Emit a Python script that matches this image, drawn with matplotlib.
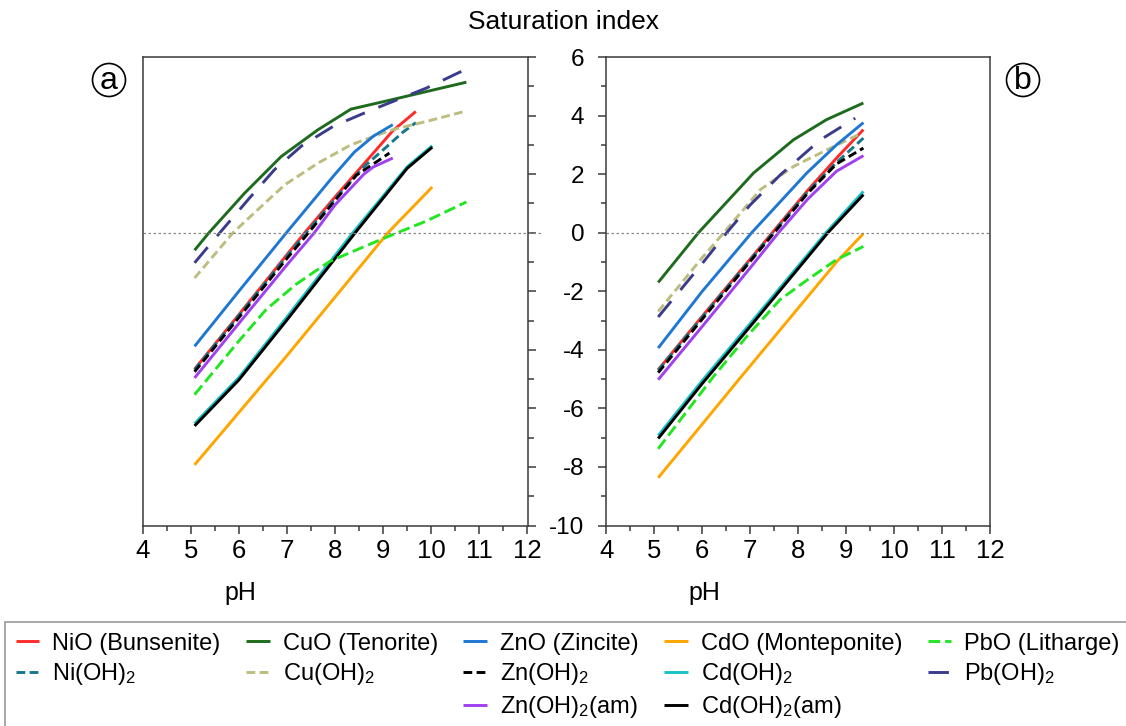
import matplotlib
matplotlib.use("Agg")
import matplotlib.pyplot as plt
from matplotlib.lines import Line2D
from matplotlib.patches import Ellipse
from matplotlib.ticker import MultipleLocator

plt.rcParams["font.family"] = ["Liberation Sans", "DejaVu Sans"]
plt.rcParams["mathtext.fontset"] = "custom"
plt.rcParams["mathtext.rm"] = "Liberation Sans"
plt.rcParams["mathtext.it"] = "Liberation Sans:italic"
plt.rcParams["axes.unicode_minus"] = False

# ── Data: panel (a) ───────────────────────────────────────────────────
a_nio_ph = [5.08, 6.0, 7.0, 7.37, 8.0, 8.6, 9.2, 9.68]
a_nio_si = [-4.66, -2.8, -0.75, 0.0, 1.22, 2.35, 3.48, 4.14]
a_nioh_ph = [5.08, 6.0, 7.0, 7.4, 8.0, 8.6, 9.07, 9.4, 9.68]
a_nioh_si = [-4.68, -2.83, -0.8, 0.0, 1.15, 2.25, 2.93, 3.42, 3.76]
a_cuo_ph = [5.08, 5.38, 6.12, 6.88, 7.64, 8.33, 9.02, 10.73]
a_cuo_si = [-0.6, 0.0, 1.35, 2.6, 3.51, 4.22, 4.48, 5.14]
a_cuoh_ph = [5.08, 5.88, 6.54, 6.96, 7.65, 8.33, 8.82, 9.2, 9.9, 10.69]
a_cuoh_si = [-1.55, 0.0, 1.01, 1.64, 2.38, 3.0, 3.3, 3.52, 3.8, 4.14]
a_zno_ph = [5.08, 6.0, 6.99, 8.0, 8.4, 8.8, 9.2]
a_zno_si = [-3.88, -2.0, 0.0, 2.0, 2.75, 3.3, 3.69]
a_znoh_ph = [5.08, 6.0, 7.0, 7.45, 8.0, 8.44, 8.8, 9.13]
a_znoh_si = [-4.75, -2.9, -0.88, 0.0, 1.1, 1.96, 2.35, 2.72]
a_znam_ph = [5.08, 6.0, 7.0, 7.57, 8.0, 8.6, 8.79, 9.2]
a_znam_si = [-4.96, -3.1, -1.1, 0.0, 0.95, 2.0, 2.24, 2.55]
a_cdo_ph = [5.08, 7.0, 9.1, 10.02]
a_cdo_si = [-7.93, -4.2, 0.0, 1.56]
a_cdoh_ph = [5.08, 6.0, 7.0, 8.37, 9.5, 10.02]
a_cdoh_si = [-6.52, -4.95, -2.88, 0.0, 2.25, 2.97]
a_cdam_ph = [5.08, 6.0, 7.0, 8.42, 9.5, 10.02]
a_cdam_si = [-6.6, -5.03, -2.98, 0.0, 2.2, 2.92]
a_pbo_ph = [5.08, 6.0, 6.57, 7.2, 7.89, 8.5, 9.03, 9.9, 10.73]
a_pbo_si = [-5.53, -3.7, -2.62, -1.75, -0.98, -0.55, -0.18, 0.4, 1.05]
a_pboh_ph = [5.08, 5.57, 6.22, 6.74, 7.31, 7.97, 8.7, 9.9, 10.73]
a_pboh_si = [-1.03, -0.07, 1.18, 2.15, 2.97, 3.64, 4.15, 4.94, 5.59]

# ── Data: panel (b) ───────────────────────────────────────────────────
b_nio_ph = [5.08, 6.0, 7.0, 7.46, 8.2, 8.8, 9.36]
b_nio_si = [-4.68, -2.85, -0.9, 0.0, 1.45, 2.55, 3.52]
b_nioh_ph = [5.08, 6.0, 7.0, 7.48, 8.2, 8.8, 9.36]
b_nioh_si = [-4.7, -2.88, -0.93, 0.0, 1.4, 2.4, 3.23]
b_cuo_ph = [5.08, 5.92, 7.07, 7.9, 8.59, 9.36]
b_cuo_si = [-1.7, 0.0, 2.04, 3.17, 3.86, 4.43]
b_cuoh_ph = [5.08, 6.0, 6.45, 7.21, 7.9, 8.6, 9.32]
b_cuoh_si = [-2.69, -0.85, 0.0, 1.47, 2.26, 2.83, 3.4]
b_zno_ph = [5.08, 6.0, 7.03, 8.18, 8.8, 9.36]
b_zno_si = [-3.94, -2.0, 0.0, 2.04, 3.0, 3.76]
b_znoh_ph = [5.08, 6.0, 7.0, 7.5, 8.2, 8.8, 9.36]
b_znoh_si = [-4.78, -2.95, -0.98, 0.0, 1.35, 2.35, 2.89]
b_znam_ph = [5.08, 6.0, 7.0, 7.59, 8.2, 8.8, 9.36]
b_znam_si = [-5.02, -3.2, -1.2, 0.0, 1.15, 2.1, 2.63]
b_cdo_ph = [5.08, 6.79, 8.81, 9.36]
b_cdo_si = [-8.37, -4.96, -0.98, -0.03]
b_cdoh_ph = [5.08, 6.0, 7.0, 8.58, 9.36]
b_cdoh_si = [-6.93, -5.05, -3.1, 0.0, 1.41]
b_cdam_ph = [5.08, 6.0, 7.0, 8.62, 9.36]
b_cdam_si = [-7.03, -5.15, -3.2, 0.0, 1.3]
b_pbo_ph = [5.08, 6.24, 6.93, 7.62, 8.2, 8.8, 9.36]
b_pbo_si = [-7.38, -4.9, -3.54, -2.29, -1.6, -0.92, -0.47]
b_pboh_ph = [5.08, 6.0, 6.51, 7.0, 7.63, 8.46, 9.19]
b_pboh_si = [-2.88, -1.05, 0.0, 0.95, 1.98, 3.17, 3.91]

labels = ["NiO (Bunsenite)", r"Ni(OH)$_\mathregular{2}$",
          "CuO (Tenorite)", r"Cu(OH)$_\mathregular{2}$",
          "ZnO (Zincite)", r"Zn(OH)$_\mathregular{2}$", r"Zn(OH)$_\mathregular{2}$(am)",
          "CdO (Monteponite)", r"Cd(OH)$_\mathregular{2}$", r"Cd(OH)$_\mathregular{2}$(am)",
          "PbO (Litharge)", r"Pb(OH)$_\mathregular{2}$"]
colors = ["#FF2B2B", "#16788A", "#1E6B1E", "#BDBD80", "#1F77D4", "#000000",
          "#A040F0", "#FFA500", "#17C3C8", "#000000", "#22E622", "#3B3B8C"]
short = (3, 1.5)
long_ = (7, 5)
dashes = [None, short, None, short, None, short, None, None, None, None,
          (4, 1.7), long_]

series_a = [(a_nio_ph, a_nio_si), (a_nioh_ph, a_nioh_si), (a_cuo_ph, a_cuo_si),
            (a_cuoh_ph, a_cuoh_si), (a_zno_ph, a_zno_si), (a_znoh_ph, a_znoh_si),
            (a_znam_ph, a_znam_si), (a_cdo_ph, a_cdo_si), (a_cdoh_ph, a_cdoh_si),
            (a_cdam_ph, a_cdam_si), (a_pbo_ph, a_pbo_si), (a_pboh_ph, a_pboh_si)]
series_b = [(b_nio_ph, b_nio_si), (b_nioh_ph, b_nioh_si), (b_cuo_ph, b_cuo_si),
            (b_cuoh_ph, b_cuoh_si), (b_zno_ph, b_zno_si), (b_znoh_ph, b_znoh_si),
            (b_znam_ph, b_znam_si), (b_cdo_ph, b_cdo_si), (b_cdoh_ph, b_cdoh_si),
            (b_cdam_ph, b_cdam_si), (b_pbo_ph, b_pbo_si), (b_pboh_ph, b_pboh_si)]

# ── Figure / axes ─────────────────────────────────────────────────────
W, H = 1126, 726
fig = plt.figure(figsize=(W / 100, H / 100), dpi=100)
bottom = 1 - 525.5 / H
height = (525.5 - 57) / H
ax_a = fig.add_axes([142.6 / W, bottom, (527.5 - 142.6) / W, height])
ax_b = fig.add_axes([606.4 / W, bottom, (990 - 606.4) / W, height])

spine_col = "#3a3a3a"
handles = []
for ax, series in ((ax_a, series_a), (ax_b, series_b)):
    for (ph, si), c, d, lab in zip(series, colors, dashes, labels):
        kw = dict(color=c, lw=2.1, solid_capstyle="butt")
        if d is not None:
            kw["dashes"] = d
        ln, = ax.plot(ph, si, label=lab, **kw)
        if ax is ax_a:
            handles.append(ln)
    ax.set_xlim(4, 12)
    ax.set_ylim(-10, 6)
    ax.xaxis.set_major_locator(MultipleLocator(1))
    ax.xaxis.set_minor_locator(MultipleLocator(0.5))
    ax.yaxis.set_major_locator(MultipleLocator(2))
    ax.yaxis.set_minor_locator(MultipleLocator(1))
    for s in ax.spines.values():
        s.set_color(spine_col)
        s.set_linewidth(1.1)
    ax.tick_params(axis="x", which="both", bottom=True, top=False, direction="out",
                   color=spine_col, width=1.1, labelsize=18.5, pad=4)
    ax.tick_params(axis="x", which="major", length=6)
    ax.tick_params(axis="x", which="minor", length=3.5)
    ax.set_xlabel("pH", fontsize=18)
    ax.xaxis.set_label_coords(0.255, -0.118)
    ax.xaxis.label.set_va("top")

# dotted zero line
ax_a.axhline(0, xmax=1.035, color="#8a8a8a", lw=0.9, ls=(0, (2, 2)), clip_on=False)
ax_b.axhline(0, color="#8a8a8a", lw=0.9, ls=(0, (2, 2)))

# panel (a): ticks on right spine, no labels
ax_a.tick_params(axis="y", which="both", left=False, right=True, labelleft=False,
                 labelright=False, direction="out", color=spine_col, width=1.1)
ax_a.tick_params(axis="y", which="major", length=6)
ax_a.tick_params(axis="y", which="minor", length=4.5)

# panel (b): ticks + labels on left spine
ax_b.tick_params(axis="y", which="both", left=True, right=False, labelleft=True,
                 direction="out", color=spine_col, width=1.1, labelsize=17.5, pad=10)
ax_b.tick_params(axis="y", which="major", length=6)
ax_b.tick_params(axis="y", which="minor", length=3.5)

# ── Titles and panel letters ──────────────────────────────────────────
fig.text(0.5, 1 - 22 / H, "Saturation index", ha="center", va="center", fontsize=19)
for cx, letter in ((109, "a"), (1023, "b")):
    fig.add_artist(Ellipse((cx / W, 1 - 80 / H), 33 / W, 33 / H,
                           transform=fig.transFigure, fill=False, ec="black", lw=1.2))
    fig.text(cx / W, 1 - 81 / H, letter, ha="center", va="center", fontsize=23)

# ── Legend ────────────────────────────────────────────────────────────
blank = Line2D([], [], color="none")
order = [handles[0], handles[1], blank, handles[2], handles[3], blank,
         handles[4], handles[5], handles[6], handles[7], handles[8], handles[9],
         handles[10], handles[11], blank]
order_labels = [h.get_label() if h is not blank else "" for h in order]
leg = fig.legend(order, order_labels, loc="upper left",
                 bbox_to_anchor=(5 / W, 1 - 622 / H), ncol=5, frameon=True,
                 fancybox=False, edgecolor="#7f7f7f", fontsize=17,
                 handlelength=1.0, handletextpad=0.55, columnspacing=1.08,
                 borderaxespad=0, borderpad=0.45, labelspacing=0.28)
leg.get_frame().set_linewidth(1.2)

fig.savefig("out.png", dpi=100)
